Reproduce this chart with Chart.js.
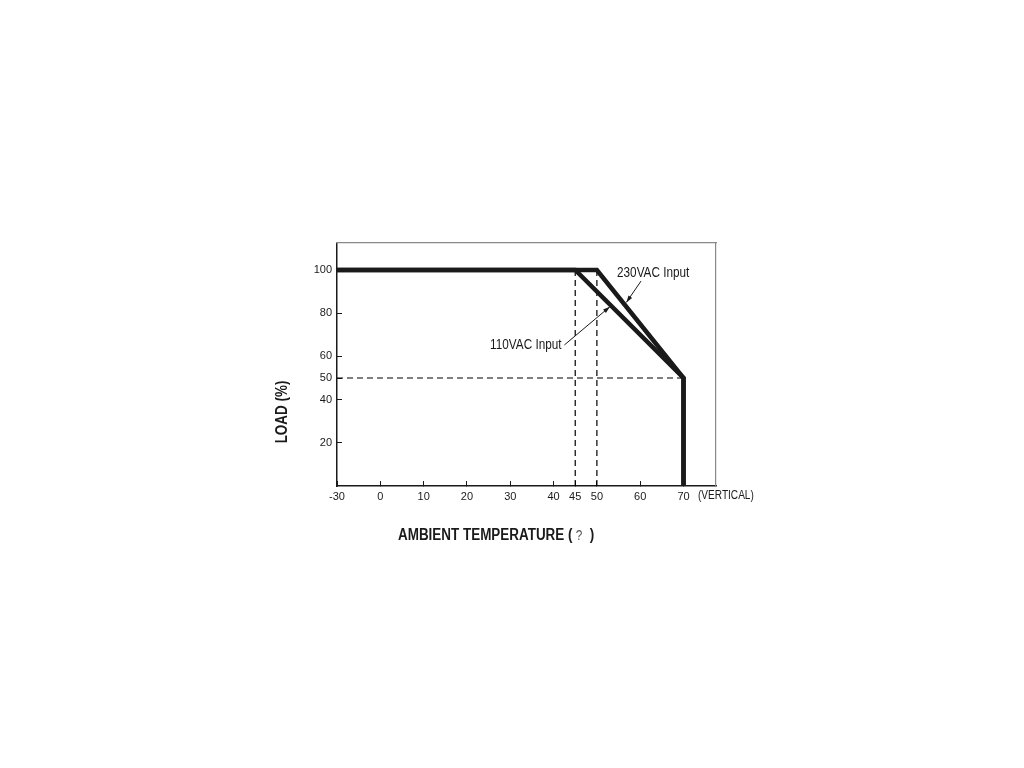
<!DOCTYPE html>
<html>
<head>
<meta charset="utf-8">
<script src="https://cdn.jsdelivr.net/npm/chart.js@4/dist/chart.umd.min.js"></script>
<style>
  html, body { margin: 0; padding: 0; background: #fff; }
  canvas { display: block; }
</style>
</head>
<body>
<canvas id="derating" width="1024" height="768"></canvas>
<script>
// derating curve data (temperature in C, load in %)
const temps110 = [-30, 45, 70, 70];
const load110 = [100, 100, 50, 0];
const temps230 = [-30, 50, 70, 70];
const load230 = [100, 100, 50, 0];

// dashed guide lines
const guide45Temps = [45, 45];
const guide45Loads = [0, 100];
const guide50Temps = [50, 50];
const guide50Loads = [0, 100];
const guideHTemps = [-30, 70];
const guideHLoads = [50, 50];

const xTickTemps = [-30, 0, 10, 20, 30, 40, 45, 50, 60, 70];
const yTickLoads = [20, 40, 50, 60, 80, 100];

// the -30..0 span is squeezed into one 10 degree step on the drawing
const toAxis = t => (t < 0 ? t / 3 : t);
const pts = (xs, ys) => xs.map((t, i) => ({ x: toAxis(t), y: ys[i] }));

const FONT = '"Liberation Sans", Arial, sans-serif';
const INK = "#1a1a1a";
const SQUEEZE = 0.84; // the original type is a condensed face

const notes = [
  { text: "230VAC Input", at: [63, 98.6], from: [60.2, 94.9], to: [56.8, 85] },
  { text: "110VAC Input", at: [33.6, 65.3], from: [42.5, 65.3], to: [53, 83] }
];

function narrowText(ctx, str, x, y, align) {
  ctx.save();
  ctx.translate(x, y);
  ctx.scale(SQUEEZE, 1);
  ctx.textAlign = align;
  ctx.fillText(str, 0, 0);
  ctx.restore();
  return ctx.measureText(str).width * SQUEEZE;
}

const decor = {
  id: "decor",
  afterDraw(chart) {
    const { ctx, scales: { x, y }, chartArea } = chart;
    ctx.save();
    ctx.fillStyle = INK;
    ctx.strokeStyle = INK;
    ctx.textBaseline = "middle";

    // annotations with arrows
    ctx.font = "14px " + FONT;
    ctx.lineWidth = 1;
    notes.forEach(n => {
      narrowText(ctx, n.text, x.getPixelForValue(n.at[0]), y.getPixelForValue(n.at[1]), "center");
      const x1 = x.getPixelForValue(n.from[0]), y1 = y.getPixelForValue(n.from[1]);
      const x2 = x.getPixelForValue(n.to[0]), y2 = y.getPixelForValue(n.to[1]);
      ctx.beginPath();
      ctx.moveTo(x1, y1);
      ctx.lineTo(x2, y2);
      ctx.stroke();
      const a = Math.atan2(y2 - y1, x2 - x1);
      ctx.beginPath();
      ctx.moveTo(x2, y2);
      ctx.lineTo(x2 - 7 * Math.cos(a) + 2.2 * Math.sin(a), y2 - 7 * Math.sin(a) - 2.2 * Math.cos(a));
      ctx.lineTo(x2 - 7 * Math.cos(a) - 2.2 * Math.sin(a), y2 - 7 * Math.sin(a) + 2.2 * Math.cos(a));
      ctx.closePath();
      ctx.fill();
    });

    // "(VERTICAL)" after the last tick
    ctx.font = "12px " + FONT;
    narrowText(ctx, "(VERTICAL)", chartArea.right - 18, chartArea.bottom + 10, "left");

    // axis titles
    ctx.font = "bold 16px " + FONT;
    const tx = 398, ty = 536;
    let w = narrowText(ctx, "AMBIENT TEMPERATURE (", tx, ty, "left");
    ctx.font = "14px " + FONT;
    ctx.fillStyle = "#555";
    w += narrowText(ctx, " ?", tx + w, ty, "left");
    ctx.font = "bold 16px " + FONT;
    ctx.fillStyle = INK;
    narrowText(ctx, "  )", tx + w, ty, "left");

    ctx.translate(283, 412);
    ctx.rotate(-Math.PI / 2);
    narrowText(ctx, "LOAD (%)", 0, 0, "center");
    ctx.restore();
  }
};

const curveStyle = {
  borderColor: INK,
  borderWidth: 4.5,
  borderJoinStyle: "miter",
  pointRadius: 0,
  showLine: true,
  fill: false
};
const guideStyle = {
  borderColor: "#000",
  borderWidth: 1.2,
  borderDash: [6, 4],
  pointRadius: 0,
  showLine: true,
  fill: false
};

new Chart(document.getElementById("derating"), {
  type: "scatter",
  data: {
    datasets: [
      Object.assign({ label: "110VAC Input", data: pts(temps110, load110) }, curveStyle),
      Object.assign({ label: "230VAC Input", data: pts(temps230, load230) }, curveStyle),
      Object.assign({ label: "45", data: pts(guide45Temps, guide45Loads) }, guideStyle),
      Object.assign({ label: "50", data: pts(guide50Temps, guide50Loads) }, guideStyle),
      Object.assign({ label: "50%", data: pts(guideHTemps, guideHLoads) }, guideStyle)
    ]
  },
  options: {
    responsive: false,
    animation: false,
    layout: { padding: { left: 277, right: 308, top: 243, bottom: 252 } },
    plugins: { legend: { display: false }, tooltip: { enabled: false } },
    scales: {
      x: {
        type: "linear",
        position: "bottom",
        min: -10,
        max: 77.5,
        afterBuildTicks: s => { s.ticks = xTickTemps.map(t => ({ value: toAxis(t) })); },
        afterFit: s => { s.height = 30; },
        ticks: {
          autoSkip: false,
          maxRotation: 0,
          padding: 9,
          color: INK,
          font: { family: FONT, size: 11 },
          callback: (v, i) => xTickTemps[i]
        },
        grid: { drawOnChartArea: false, tickLength: -5, color: INK, tickWidth: 1 },
        border: { color: INK, width: 1.5 }
      },
      y: {
        type: "linear",
        position: "left",
        min: 0,
        max: 112.5,
        afterBuildTicks: s => { s.ticks = yTickLoads.map(v => ({ value: v })); },
        afterFit: s => { s.width = 60; },
        ticks: {
          padding: 10,
          color: INK,
          font: { family: FONT, size: 11 }
        },
        grid: { drawOnChartArea: false, tickLength: -5, color: INK, tickWidth: 1 },
        border: { color: INK, width: 1.5 }
      },
      x2: {
        type: "linear",
        position: "top",
        min: -10,
        max: 77.5,
        afterFit: s => { s.height = 0; },
        ticks: { display: false },
        grid: { display: false },
        border: { color: "#888", width: 1.2 }
      },
      y2: {
        type: "linear",
        position: "right",
        min: 0,
        max: 112.5,
        afterFit: s => { s.width = 0; },
        ticks: { display: false },
        grid: { display: false },
        border: { color: "#888", width: 1.2 }
      }
    }
  },
  plugins: [decor]
});
</script>
</body>
</html>
